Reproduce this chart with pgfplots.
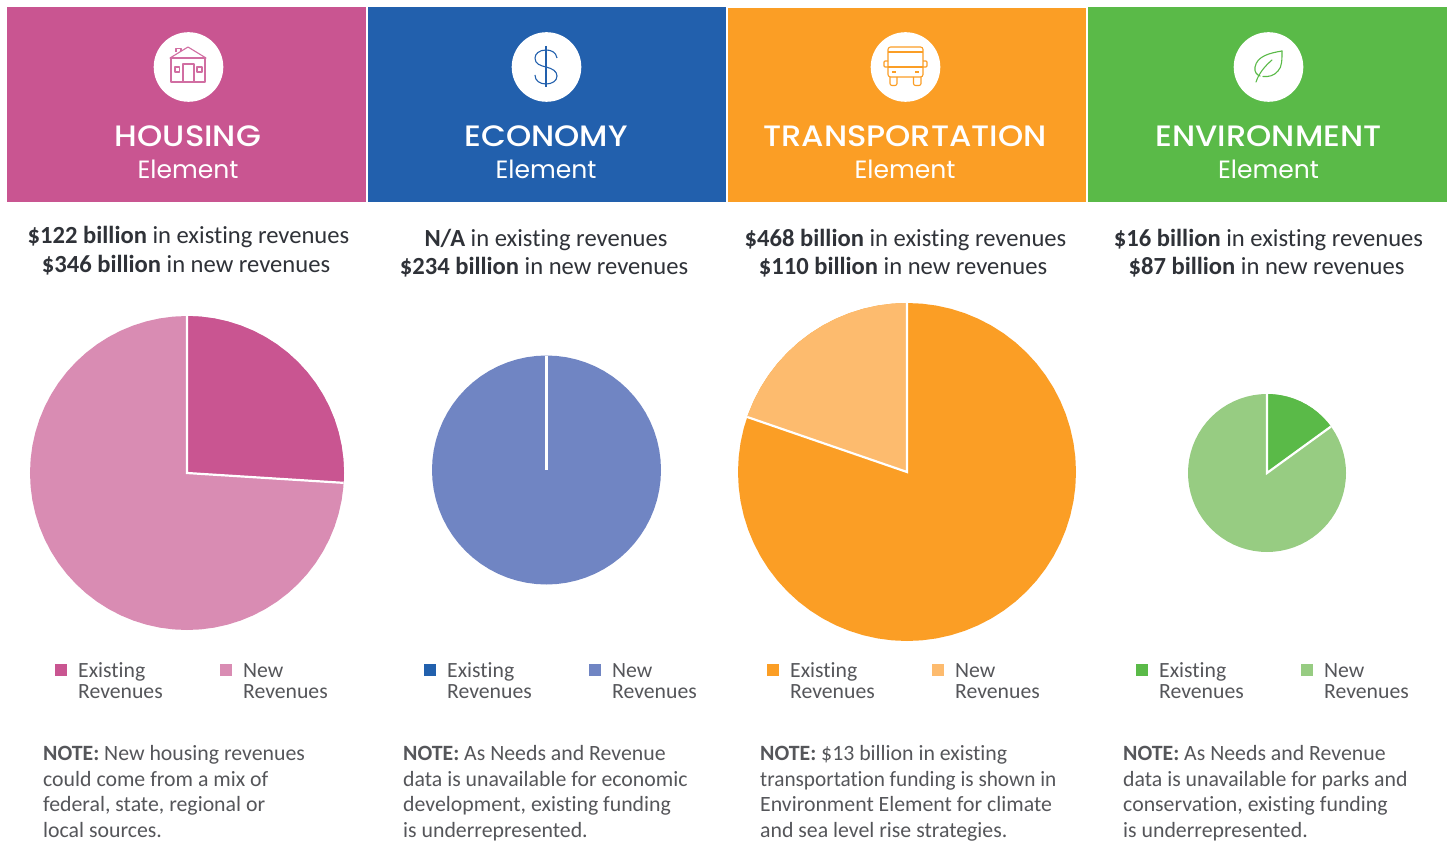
\documentclass[border=0pt]{standalone}
\usepackage{fontspec}
\usepackage{pgfplots}
\usepackage{pgfplotstable}
\pgfplotsset{compat=1.18}
\usepgfplotslibrary{polar}
\setmainfont{Carlito}[Ligatures=NoCommon]
\newfontfamily\titlefont{Poppins}
\newfontfamily\titlebold{Poppins Medium}[FakeStretch=1.09]
\definecolor{hA}{HTML}{C95591}\definecolor{hB}{HTML}{D98CB3}
\definecolor{eA}{HTML}{2260AD}\definecolor{eB}{HTML}{7085C3}
\definecolor{tA}{HTML}{FB9E25}\definecolor{tB}{HTML}{FDBB6E}
\definecolor{gA}{HTML}{5ABA48}\definecolor{gB}{HTML}{97CC82}
\definecolor{bodyc}{HTML}{2F3238}\definecolor{notec}{HTML}{55565A}
\pgfplotstableread{
a r
0 1
5 1
10 1
15 1
20 1
25 1
30 1
35 1
40 1
45 1
50 1
55 1
60 1
65 1
70 1
75 1
80 1
85 1
90 1
95 1
100 1
105 1
110 1
115 1
120 1
125 1
130 1
135 1
140 1
145 1
150 1
155 1
160 1
165 1
170 1
175 1
180 1
185 1
190 1
195 1
200 1
205 1
210 1
215 1
220 1
225 1
230 1
235 1
240 1
245 1
250 1
255 1
260 1
265 1
270 1
275 1
280 1
285 1
290 1
295 1
300 1
305 1
310 1
315 1
320 1
325 1
330 1
335 1
340 1
345 1
350 1
355 1
360 1
}\discT
\pgfplotsset{pie/.style={hide axis,scale only axis,clip=false,anchor=center,
  xmin=0,xmax=360,ymin=0,ymax=1,width=#1pt,height=#1pt}}
\newcommand\titleblock[3]{%
  \node[anchor=base,text=white,font=\titlebold\fontsize{29.5}{29.5}\selectfont,inner sep=0pt] at (#1,146.5) {#2};
  \node[anchor=base,text=white,font=\titlefont\fontsize{25}{25}\selectfont,inner sep=0pt] at (#1,178.5) {#3};}
\newcommand\sumline[4]{\node[anchor=base,text=bodyc,font=\fontsize{24.6}{24.6}\selectfont,inner sep=0pt] at (#1,#2) {\textbf{#3} #4};}
\newcommand\legendblock[5]{%
  \fill[#4] (#1,664) rectangle ++(12,12);
  \fill[#5] (#1+165,664) rectangle ++(12,12);
  \foreach \yy/\tt/\xx in {677/Existing/23,698/Revenues/23,677/New/188,698/Revenues/188}
    \node[anchor=base west,text=notec,font=\fontsize{21.7}{21.7}\selectfont,inner sep=0pt] at (#1+\xx,\yy) {\tt};}
\newcommand\noteline[3]{\node[anchor=base west,text=notec,font=\fontsize{21.8}{21.8}\selectfont,inner sep=0pt] at (#1,#2) {#3};}
\begin{document}
\begin{tikzpicture}[x=1pt,y=-1pt]
\useasboundingbox (0,0) rectangle (1448,842);
\fill[white] (0,0) rectangle (1448,842);
% header panels
\fill[hA] (7,7) rectangle (366,202);
\fill[eA] (368,7) rectangle (726,202);
\fill[tA] (728,8) rectangle (1086,202);
\fill[gA] (1088,7) rectangle (1447,202);
\foreach \cx in {188.5,546.5,905.5,1268.5} \fill[white] (\cx,67) circle (34.8);
\titleblock{188}{HOUSING}{Element}
\titleblock{546}{ECONOMY}{Element}
\titleblock{905}{TRANSPORTATION}{Element}
\titleblock{1268.5}{ENVIRONMENT}{Element}
% house icon
\begin{scope}[draw=hA!85!white,line width=1.1pt,line join=round]
\draw (170,58) -- (188,47) -- (206,58) -- cycle;
\draw (171,58) rectangle (205,82);
\draw (183,64) rectangle (194,82);
\draw (175,67) rectangle (179.5,72);
\draw (197,67) rectangle (202,72);
\draw (176,52) -- (176,48.5) -- (181,48.5) -- (181,51);
\end{scope}
% dollar icon
\begin{scope}[draw=eA,line width=1.1pt]
\draw (546,46) -- (546,87);
\draw (557,58) .. controls (556,52) and (551,50) .. (546,50) .. controls (539,50) and (535,54) .. (535,58)
 .. controls (535,64) and (540,65.5) .. (546,67) .. controls (552,68.5) and (557,71) .. (557,76)
 .. controls (557,81) and (552,84) .. (546,84) .. controls (540,84) and (535,81) .. (535,75);
\end{scope}
% bus icon
\begin{scope}[draw=tA,line width=1.1pt,line join=round]
\draw[rounded corners=2.5pt] (888,47) rectangle (923,77);
\draw (888,52) -- (923,52);
\draw (888,67) -- (923,67);
\draw[rounded corners=1pt] (888,61) -- (884,61) -- (884,67) -- (888,67);
\draw[rounded corners=1pt] (923,61) -- (927,61) -- (927,67) -- (923,67);
\draw[rounded corners=2pt] (890,77) -- (890,85.5) -- (897,85.5) -- (897,77);
\draw[rounded corners=2pt] (913.5,77) -- (913.5,85.5) -- (921,85.5) -- (921,77);
\draw (892,72) -- (896,72);
\draw (915,72) -- (919,72);
\end{scope}
% leaf icon
\begin{scope}[draw=gA,line width=1.1pt,line cap=round]
\draw (1282,51) .. controls (1270,53) and (1257,56) .. (1255,67) .. controls (1254,72) and (1257,75) .. (1260,76);
\draw (1282,51) .. controls (1282,60) and (1282,67) .. (1278,71) .. controls (1274,76) and (1268,77) .. (1263,76.5);
\draw (1272,60) .. controls (1265,66) and (1259,73) .. (1256,82);
\end{scope}
% summaries
\sumline{188.5}{244}{\$122 billion}{in existing revenues}
\sumline{186}{273}{\$346 billion}{in new revenues}
\sumline{546}{247}{N/A}{in existing revenues}
\sumline{544}{275}{\$234 billion}{in new revenues}
\sumline{905.5}{247}{\$468 billion}{in existing revenues}
\sumline{903}{275}{\$110 billion}{in new revenues}
\sumline{1268.5}{247}{\$16 billion}{in existing revenues}
\sumline{1266.5}{275}{\$87 billion}{in new revenues}
% pies
\begin{polaraxis}[pie=314,at={(187pt,-473pt)}]
\addplot[fill=hB,draw=none] table[x=a,y=r]{\discT};
\addplot[fill=hA,draw=none] coordinates {(0,0)(90,1)(85,1)(80,1)(75,1)(70,1)(65,1)(60,1)(55,1)(50,1)(45,1)(40,1)(35,1)(30,1)(25,1)(20,1)(15,1)(10,1)(5,1)(0,1)(-3.6,1)};
\addplot[white,line width=2.2pt] coordinates {(90,1)(0,0)(-3.6,1)};
\end{polaraxis}
\begin{polaraxis}[pie=229,at={(546.5pt,-470pt)}]
\addplot[fill=eB,draw=none] table[x=a,y=r]{\discT};
\addplot[white,line width=2.2pt] coordinates {(90,1)(0,0)};
\end{polaraxis}
\begin{polaraxis}[pie=338,at={(907pt,-472pt)}]
\addplot[fill=tA,draw=none] table[x=a,y=r]{\discT};
\addplot[fill=tB,draw=none] coordinates {(0,0)(90,1)(95,1)(100,1)(105,1)(110,1)(115,1)(120,1)(125,1)(130,1)(135,1)(140,1)(145,1)(150,1)(155,1)(160,1)(161,1)};
\addplot[white,line width=2.2pt] coordinates {(90,1)(0,0)(161,1)};
\end{polaraxis}
\begin{polaraxis}[pie=158,at={(1267pt,-473pt)}]
\addplot[fill=gB,draw=none] table[x=a,y=r]{\discT};
\addplot[fill=gA,draw=none] coordinates {(0,0)(90,1)(85,1)(80,1)(75,1)(70,1)(65,1)(60,1)(55,1)(50,1)(45,1)(40,1)(36,1)};
\addplot[white,line width=2.2pt] coordinates {(90,1)(0,0)(36,1)};
\end{polaraxis}
% legends
\legendblock{55}{}{}{hA}{hB}
\legendblock{424}{}{}{eA}{eB}
\legendblock{767}{}{}{tA}{tB}
\legendblock{1136}{}{}{gA}{gB}
% notes
\noteline{43}{760}{\textbf{NOTE:} New housing revenues}
\noteline{43}{786}{could come from a mix of}
\noteline{43}{811}{federal, state, regional or}
\noteline{43}{837}{local sources.}
\noteline{403}{760}{\textbf{NOTE:} As Needs and Revenue}
\noteline{403}{786}{data is unavailable for economic}
\noteline{403}{811}{development, existing funding}
\noteline{403}{837}{is underrepresented.}
\noteline{760}{760}{\textbf{NOTE:} \$13 billion in existing}
\noteline{760}{786}{\scalebox{0.975}[1]{transportation funding is shown in}}
\noteline{760}{811}{Environment Element for climate}
\noteline{760}{837}{and sea level rise strategies.}
\noteline{1123}{760}{\textbf{NOTE:} As Needs and Revenue}
\noteline{1123}{786}{data is unavailable for parks and}
\noteline{1123}{811}{conservation, existing funding}
\noteline{1123}{837}{is underrepresented.}
\end{tikzpicture}
\end{document}
